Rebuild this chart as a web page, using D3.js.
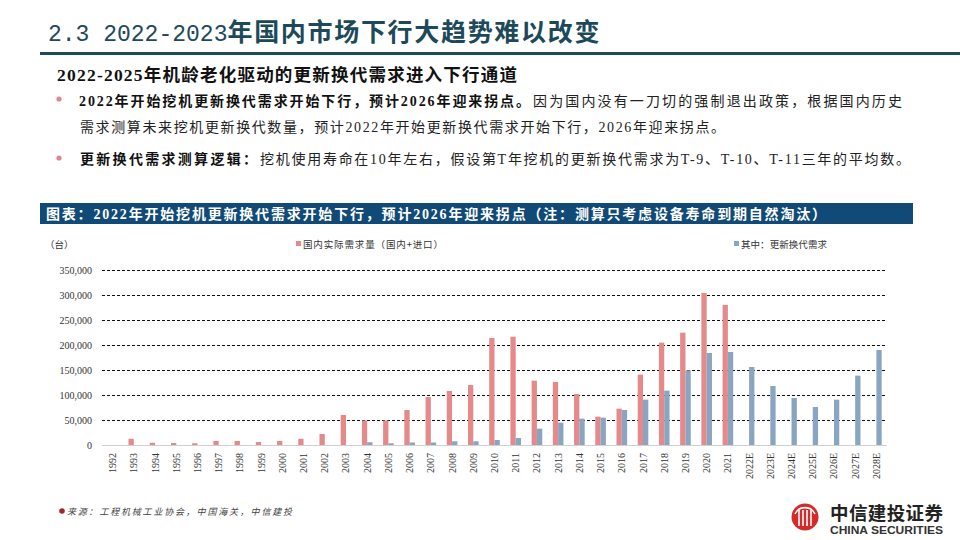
<!DOCTYPE html>
<html>
<head>
<meta charset="utf-8">
<script src="https://cdn.jsdelivr.net/npm/d3@7"></script>
<style>
  body { margin: 0; background: #fff; }
  svg { display: block; }
</style>
</head>
<body>
<svg width="960" height="540"></svg>
<script>
// data
const years = ["1992", "1993", "1994", "1995", "1996", "1997", "1998", "1999", "2000", "2001",
  "2002", "2003", "2004", "2005", "2006", "2007", "2008", "2009", "2010", "2011",
  "2012", "2013", "2014", "2015", "2016", "2017", "2018", "2019", "2020", "2021",
  "2022E", "2023E", "2024E", "2025E", "2026E", "2027E", "2028E"];

// 国内实际需求量（国内+进口）
const demand = [0, 12500, 4500, 4000, 3500, 8000, 8000, 6000, 8000, 12500,
  22000, 60000, 49000, 49000, 70000, 96000, 108000, 120000, 214000, 216500,
  128700, 126000, 102000, 56700, 72700, 140700, 204700, 224700, 304000, 280000,
  null, null, null, null, null, null, null];

// 其中：更新换代需求
const replace = [0, 0, 0, 0, 0, 0, 0, 0, 0, 0,
  0, 0, 5500, 3500, 5000, 5000, 7500, 7500, 10000, 14000,
  32700, 44700, 52700, 54700, 70000, 90700, 108700, 149300, 184000, 186000,
  156000, 118000, 94000, 76000, 90700, 138700, 190000];

const yTicks = [0, 50000, 100000, 150000, 200000, 250000, 300000, 350000];

const seriesNames = ["国内实际需求量（国内+进口）", "其中：更新换代需求"];
const colors = ["#E58A8B", "#8AA5C2"];

const svg = d3.select("svg");
const cjk = "'Liberation Serif', 'Noto Sans CJK SC', serif";
const sans = "'Noto Sans CJK SC', sans-serif";

// ---- page title ----
const title = svg.append("text").attr("x", 48).attr("y", 41).attr("fill", "#1D4A5B");
title.append("tspan").text("2.3 2022-2023")
  .attr("font-family", "'Liberation Mono', monospace").attr("font-size", 23);
title.append("tspan").text("年国内市场下行大趋势难以改变")
  .attr("font-family", sans).attr("font-weight", "bold").attr("font-size", 25)
  .attr("textLength", 372).attr("lengthAdjust", "spacing");

svg.append("rect").attr("x", 40).attr("y", 52).attr("width", 920).attr("height", 3).attr("fill", "#1E4B5C");

// ---- subtitle ----
svg.append("text").attr("x", 57).attr("y", 81)
  .attr("font-family", cjk).attr("font-weight", "bold").attr("font-size", 17.5).attr("fill", "#111")
  .attr("textLength", 460).attr("lengthAdjust", "spacing")
  .text("2022-2025年机龄老化驱动的更新换代需求进入下行通道");

// ---- bullets ----
function bullet(y) {
  svg.append("circle").attr("cx", 59).attr("cy", y - 5).attr("r", 2.6).attr("fill", "#E0868C");
}
bullet(104);
svg.append("text").attr("x", 79).attr("y", 106)
  .attr("font-family", cjk).attr("font-weight", "bold").attr("font-size", 14).attr("fill", "#111")
  .attr("textLength", 451).attr("lengthAdjust", "spacing")
  .text("2022年开始挖机更新换代需求开始下行，预计2026年迎来拐点。");
svg.append("text").attr("x", 533).attr("y", 106)
  .attr("font-family", cjk).attr("font-size", 14).attr("fill", "#222")
  .attr("textLength", 369).attr("lengthAdjust", "spacing")
  .text("因为国内没有一刀切的强制退出政策，根据国内历史");
svg.append("text").attr("x", 80).attr("y", 132)
  .attr("font-family", cjk).attr("font-size", 14).attr("fill", "#222")
  .attr("textLength", 645).attr("lengthAdjust", "spacing")
  .text("需求测算未来挖机更新换代数量，预计2022年开始更新换代需求开始下行，2026年迎来拐点。");

bullet(163);
svg.append("text").attr("x", 80).attr("y", 164)
  .attr("font-family", cjk).attr("font-weight", "bold").attr("font-size", 14).attr("fill", "#111")
  .attr("textLength", 177).attr("lengthAdjust", "spacing")
  .text("更新换代需求测算逻辑：");
svg.append("text").attr("x", 260).attr("y", 164)
  .attr("font-family", cjk).attr("font-size", 14).attr("fill", "#222")
  .attr("textLength", 650).attr("lengthAdjust", "spacing")
  .text("挖机使用寿命在10年左右，假设第T年挖机的更新换代需求为T-9、T-10、T-11三年的平均数。");

// ---- chart header bar ----
svg.append("rect").attr("x", 40).attr("y", 203).attr("width", 873).attr("height", 21).attr("fill", "#114A77");
svg.append("text").attr("x", 46).attr("y", 219)
  .attr("font-family", cjk).attr("font-weight", "bold").attr("font-size", 14).attr("fill", "#fff")
  .attr("textLength", 780).attr("lengthAdjust", "spacing")
  .text("图表：2022年开始挖机更新换代需求开始下行，预计2026年迎来拐点（注：测算只考虑设备寿命到期自然淘汰）");

// ---- chart ----
const margin = { left: 102, right: 887, top: 270, bottom: 445 };

const x = d3.scaleBand().domain(years).range([margin.left, margin.right]).paddingInner(0).paddingOuter(0);
const x1 = d3.scaleBand().domain([0, 1]).range([0, x.bandwidth()]).paddingInner(0).paddingOuter(1);
const y = d3.scaleLinear().domain([0, 350000]).range([margin.bottom, margin.top]);

// unit + legend
svg.append("text").attr("x", 45).attr("y", 248).attr("font-family", sans).attr("font-size", 9.5)
  .attr("fill", "#333").text("（台）");
const legendX = [296, 734];
const legendW = [140, 86];
seriesNames.forEach((name, i) => {
  svg.append("rect").attr("x", legendX[i]).attr("y", 241).attr("width", 5).attr("height", 5).attr("fill", colors[i]);
  svg.append("text").attr("x", legendX[i] + 7).attr("y", 247.5)
    .attr("font-family", sans).attr("font-size", 9.5).attr("fill", "#333")
    .attr("textLength", legendW[i]).attr("lengthAdjust", "spacing").text(name);
});

// gridlines
const grid = svg.append("g");
grid.selectAll("line")
  .data(yTicks.filter(d => d > 0))
  .enter()
  .append("line")
  .attr("x1", margin.left).attr("x2", margin.right)
  .attr("y1", d => Math.round(y(d)) + 0.5).attr("y2", d => Math.round(y(d)) + 0.5)
  .attr("stroke", "#111").attr("stroke-width", 1).attr("stroke-dasharray", "3,2");

// y axis (labels only)
const yAxis = d3.axisLeft(y).tickValues(yTicks).tickSize(0).tickPadding(0).tickFormat(d3.format(","));
const gy = svg.append("g").attr("transform", "translate(92,0)").call(yAxis);
gy.select(".domain").remove();
gy.selectAll("text").attr("font-family", "'Liberation Serif', serif").attr("font-size", 10).attr("fill", "#333");

// bars
const rows = years.map((yr, i) => ({ year: yr, vals: [demand[i], replace[i]] }));
const groups = svg.append("g").selectAll("g")
  .data(rows)
  .enter()
  .append("g")
  .attr("transform", d => `translate(${x(d.year)},0)`);

groups.selectAll("rect")
  .data(d => d.vals.map((v, k) => ({ k, v })).filter(e => e.v))
  .enter()
  .append("rect")
  .attr("x", e => x1(e.k))
  .attr("width", x1.bandwidth())
  .attr("y", e => y(e.v))
  .attr("height", e => y(0) - y(e.v))
  .attr("fill", e => colors[e.k]);

// baseline
svg.append("line").attr("x1", margin.left).attr("x2", margin.right)
  .attr("y1", y(0) + 0.5).attr("y2", y(0) + 0.5).attr("stroke", "#D0D0D0");

// x axis labels rotated
const xAxis = d3.axisBottom(x).tickSize(0).tickPadding(0);
const gx = svg.append("g").attr("transform", `translate(0,${margin.bottom})`).call(xAxis);
gx.select(".domain").remove();
gx.selectAll("text")
  .attr("font-family", "'Liberation Serif', serif").attr("font-size", 10).attr("fill", "#333")
  .attr("transform", "rotate(-90)")
  .attr("text-anchor", "end")
  .attr("x", -8).attr("y", 0).attr("dy", "0.35em")
  .attr("dx", 0);

// ---- footer ----
svg.append("circle").attr("cx", 62).attr("cy", 511).attr("r", 2.8).attr("fill", "#A5242A");
svg.append("text").attr("x", 67).attr("y", 515)
  .attr("font-family", sans).attr("font-style", "italic").attr("font-size", 9).attr("fill", "#444")
  .attr("textLength", 225).attr("lengthAdjust", "spacing")
  .text("来源：工程机械工业协会，中国海关，中信建投");

// logo
const logo = svg.append("g").attr("transform", "translate(805,517)");
logo.append("circle").attr("r", 13.5).attr("fill", "#D42A2A");
[-6, -2, 2, 6].forEach(dx => {
  logo.append("line").attr("x1", dx).attr("x2", dx).attr("y1", -7).attr("y2", 9).attr("stroke", "#fff").attr("stroke-width", 1.6);
});
logo.append("path").attr("d", "M-10,-3 A11,11 0 0 1 10,-3").attr("fill", "none").attr("stroke", "#fff").attr("stroke-width", 1.6);
svg.append("text").attr("x", 830).attr("y", 520)
  .attr("font-family", sans).attr("font-weight", "bold").attr("font-size", 18.5).attr("fill", "#222")
  .attr("textLength", 113).attr("lengthAdjust", "spacing").text("中信建投证券");
svg.append("text").attr("x", 830).attr("y", 534)
  .attr("font-family", "'Liberation Sans', sans-serif").attr("font-weight", "bold").attr("font-size", 10.5).attr("fill", "#333")
  .attr("textLength", 113).attr("lengthAdjust", "spacingAndGlyphs").text("CHINA SECURITIES");
</script>
</body>
</html>
